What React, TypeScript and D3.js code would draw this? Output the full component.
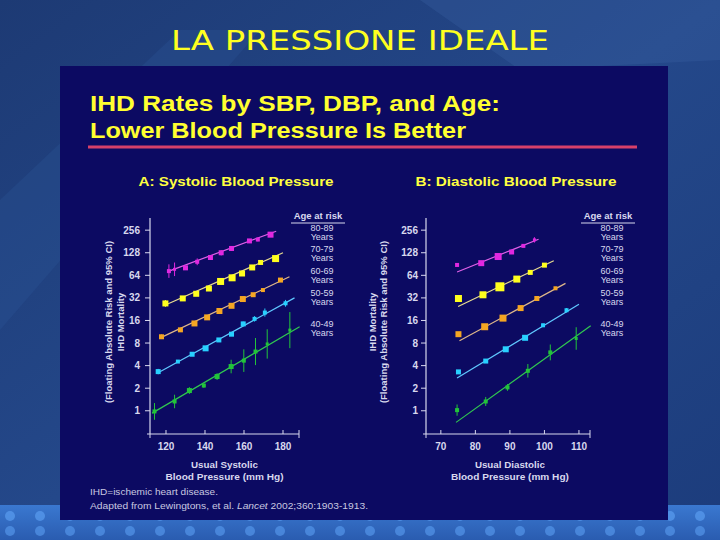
import React from "react";
import * as d3 from "d3";

const ageGroups = ["80-89", "70-79", "60-69", "50-59", "40-49"];
const seriesColors = ["#e028e0", "#ffff1e", "#f5a623", "#28d0ff", "#22c43a"];
const lineColors = ["#e060e8", "#e8dc90", "#e0b88a", "#60c8ff", "#30c850"];
const yTicks = [1, 2, 4, 8, 16, 32, 64, 128, 256];
const sbpTicks = [120, 140, 160, 180];
const dbpTicks = [70, 80, 90, 100, 110];

// Panel A: systolic
const sbpX = [
  [121.5, 124.4, 130, 136, 142.8, 148.3, 153.6, 162.8, 167.1, 173.6],
  [119.7, 128.6, 135.5, 142, 148, 153.9, 159, 164.2, 168.5, 176.2],
  [117.7, 127.4, 134.6, 141.1, 147.4, 153.6, 159.4, 164.7, 169.7, 178.7],
  [116, 126.1, 133.4, 140.3, 147.1, 153.6, 159.6, 165.4, 170.7, 181.3],
  [114.1, 124.4, 132, 139.4, 146.2, 153.4, 159.9, 165.9, 171.9, 183.5],
];
const sbpY = [
  [72.8, 77, 80.5, 97, 110.6, 128, 146, 184, 192, 223],
  [27, 31.5, 36.3, 42.7, 53, 59.3, 67.7, 81.5, 95, 107],
  [9.7, 12, 14.6, 17.6, 21.4, 25.1, 30.9, 35.3, 40.7, 55.3],
  [3.33, 4.53, 5.67, 6.8, 8.8, 10.5, 14.4, 16.8, 20.4, 27.1],
  [0.98, 1.33, 1.86, 2.17, 2.86, 3.89, 4.66, 6.16, 7.78, 11.9],
];
const sbpCI = [
  [0.3, 0.3, 0.08, 0.15, 0.1, 0.12, 0.1, 0.08, 0.08, 0.1],
  [0.15, 0.06, 0.05, 0.05, 0.05, 0.05, 0.05, 0.06, 0.08, 0.08],
  [0.1, 0.05, 0.05, 0.05, 0.05, 0.05, 0.05, 0.06, 0.06, 0.08],
  [0.12, 0.05, 0.05, 0.05, 0.05, 0.08, 0.1, 0.12, 0.18, 0.15],
  [0.37, 0.3, 0.15, 0.1, 0.15, 0.3, 0.5, 0.6, 0.65, 0.8],
];
const sbpSize = [
  [4, 3, 5, 4, 5, 5, 5, 5, 4, 6],
  [6, 6, 6, 6, 7, 7, 6, 6, 5, 7],
  [5, 5, 6, 6, 6, 6, 6, 5, 4, 5],
  [5, 4, 5, 6, 5, 5, 5, 4, 4, 4],
  [4, 4, 5, 4, 5, 5, 4, 4, 3, 3],
];
const sbpFitStart = [[121.5, 72.8], [119.7, 25.7], [116.8, 9.3], [115.5, 3.17], [112.9, 0.93]];
const sbpFitEnd = [[176.5, 248], [180, 128], [183.3, 61.2], [185.9, 32], [188.5, 13.2]];

// Panel B: diastolic
const dbpX = [
  [74.7, 81.7, 86.6, 90.5, 93.9, 97.1],
  [75.1, 82.2, 87.1, 92, 95.9, 100],
  [75.1, 82.7, 88, 93.1, 97.8, 103.2],
  [75.1, 83, 88.8, 94.4, 99.6, 106.4],
  [74.7, 83, 89.3, 95.2, 101.7, 109.2],
];
const dbpY = [
  [88, 93, 114, 131, 158, 190],
  [31.4, 35.2, 45, 57, 70, 87.5],
  [10.5, 13.2, 17.2, 23.4, 31.4, 43],
  [3.3, 4.6, 6.6, 9.4, 13.8, 21.9],
  [1.02, 1.33, 2.05, 3.41, 6, 9.2],
];
const dbpCI = [
  [0.06, 0.05, 0.05, 0.05, 0.06, 0.12],
  [0.05, 0.05, 0.05, 0.05, 0.06, 0.06],
  [0.05, 0.05, 0.05, 0.05, 0.06, 0.06],
  [0.06, 0.05, 0.05, 0.05, 0.08, 0.1],
  [0.25, 0.2, 0.15, 0.3, 0.35, 0.5],
];
const dbpSize = [
  [4, 6, 7, 5, 4, 3],
  [7, 7, 9, 7, 5, 5],
  [6, 7, 7, 6, 5, 4],
  [5, 5, 6, 6, 4, 4],
  [4, 4, 4, 4, 4, 3],
];
const dbpFitStart = [[74.7, 71], [75, 24.6], [75.4, 8.6], [74.7, 2.73], [74.4, 0.7]];
const dbpFitEnd = [[98.3, 194], [102.7, 100], [106.1, 50], [110, 26.4], [113.4, 13.6]];

const legendY = [228, 249, 271, 293, 324];

const axisCol = "#d8d8ee";
const font = "'Liberation Sans', Arial, sans-serif";

type PanelProps = {
  xDomain: [number, number];
  xRange: [number, number];
  ticks: number[];
  X: number[][];
  Y: number[][];
  CI: number[][];
  S: number[][];
  fitS: number[][];
  fitE: number[][];
  heading: string;
  headingX: number;
  headingW: number;
  xLabel1: string;
  xLabel2: string;
  xLabelW1: number;
  yLab1X: number;
  yLab2X: number;
  tickLabX: number;
  legendX: number;
};

function Panel(p: PanelProps) {
  const x = d3.scaleLinear().domain(p.xDomain).range(p.xRange);
  const y = d3.scaleLog().base(2).domain([0.49, 372]).range([434, 218]);
  const x0 = p.xRange[0];
  const x1 = p.xRange[1];
  const xc = (x(p.ticks[0]) + x(p.ticks[p.ticks.length - 1])) / 2;
  const yc = 322;
  return (
    <g>
      <text x={p.headingX} y={186} fill="#ffff40" fontFamily={font} fontWeight="bold" fontSize={13.5} textAnchor="middle" textLength={p.headingW} lengthAdjust="spacingAndGlyphs">
        {p.heading}
      </text>
      {/* axes */}
      <line x1={x0} x2={x0} y1={218} y2={434} stroke={axisCol} strokeWidth={1.2} />
      <line x1={x0 - 3} x2={x1} y1={434} y2={434} stroke={axisCol} strokeWidth={1.2} />
      <line x1={x1} x2={x1} y1={430} y2={438} stroke={axisCol} strokeWidth={1} />
      <line x1={x0} x2={x0} y1={434} y2={438} stroke={axisCol} strokeWidth={1} />
      {yTicks.map((t) => (
        <g key={t}>
          <line x1={x0 - 5} x2={x0} y1={y(t)} y2={y(t)} stroke={axisCol} />
          <text x={p.tickLabX} y={y(t) + 3.5} fill={axisCol} fontFamily={font} fontWeight="bold" fontSize={10} textAnchor="end">
            {t}
          </text>
        </g>
      ))}
      {p.ticks.map((t) => (
        <g key={t}>
          <line x1={x(t)} x2={x(t)} y1={430} y2={434} stroke={axisCol} />
          <text x={x(t)} y={450} fill={axisCol} fontFamily={font} fontWeight="bold" fontSize={10} textAnchor="middle">
            {t}
          </text>
        </g>
      ))}
      <text x={xc} y={468} fill={axisCol} fontFamily={font} fontWeight="bold" fontSize={9.5} textAnchor="middle" textLength={p.xLabelW1} lengthAdjust="spacingAndGlyphs">
        {p.xLabel1}
      </text>
      <text x={xc} y={480} fill={axisCol} fontFamily={font} fontWeight="bold" fontSize={9.5} textAnchor="middle" textLength={118} lengthAdjust="spacingAndGlyphs">
        {p.xLabel2}
      </text>
      <text transform={`translate(${p.yLab1X},${yc}) rotate(-90)`} fill={axisCol} fontFamily={font} fontWeight="bold" fontSize={9.5} textAnchor="middle">
        IHD Mortality
      </text>
      <text transform={`translate(${p.yLab2X},${yc}) rotate(-90)`} fill={axisCol} fontFamily={font} fontWeight="bold" fontSize={9.5} textAnchor="middle">
        (Floating Absolute Risk and 95% CI)
      </text>
      {/* series */}
      {ageGroups.map((a, i) => (
        <g key={a}>
          <line
            x1={x(p.fitS[i][0])}
            y1={y(p.fitS[i][1])}
            x2={x(p.fitE[i][0])}
            y2={y(p.fitE[i][1])}
            stroke={lineColors[i]}
            strokeWidth={1.2}
          />
          {p.X[i].map((xv, j) => {
            const yv = p.Y[i][j];
            const ci = p.CI[i][j];
            const s = p.S[i][j];
            return (
              <g key={j}>
                <line
                  x1={x(xv)}
                  x2={x(xv)}
                  y1={y(yv * Math.pow(2, ci))}
                  y2={y(yv / Math.pow(2, ci))}
                  stroke={seriesColors[i]}
                  strokeWidth={1}
                />
                <rect x={x(xv) - s / 2} y={y(yv) - s / 2} width={s} height={s} fill={seriesColors[i]} />
              </g>
            );
          })}
        </g>
      ))}
      {/* legend */}
      <text x={p.legendX} y={219} fill={axisCol} fontFamily={font} fontWeight="bold" fontSize={9.5} textAnchor="middle">
        Age at risk
      </text>
      <line x1={p.legendX - 27} x2={p.legendX + 27} y1={223} y2={223} stroke={axisCol} strokeWidth={1} />
      {ageGroups.map((a, i) => (
        <g key={a}>
          <text x={p.legendX + 4} y={legendY[i] + 3} fill={axisCol} fontFamily={font} fontSize={9} textAnchor="middle">
            {a}
          </text>
          <text x={p.legendX + 4} y={legendY[i] + 12} fill={axisCol} fontFamily={font} fontSize={9} textAnchor="middle">
            Years
          </text>
        </g>
      ))}
    </g>
  );
}

export default function App() {
  const dots = d3.range(0, 24);
  return (
    <svg width={720} height={540} style={{ position: "absolute", left: 0, top: 0 }}>
      <defs>
        <linearGradient id="bg" x1="0" y1="0" x2="1" y2="1">
          <stop offset="0" stopColor="#1d3a74" />
          <stop offset="0.5" stopColor="#24488a" />
          <stop offset="1" stopColor="#1c3c7c" />
        </linearGradient>
        <linearGradient id="strip" x1="0" y1="0" x2="0" y2="1">
          <stop offset="0" stopColor="#3a78d0" />
          <stop offset="1" stopColor="#2a5cb0" />
        </linearGradient>
      </defs>
      <rect x={0} y={0} width={720} height={540} fill="url(#bg)" />
      <path d="M0,200 L180,30 L260,30 L0,330 Z" fill="#2c5296" opacity={0.35} />
      <path d="M420,0 L720,0 L720,60 L520,70 Z" fill="#3a62a6" opacity={0.3} />
      <rect x={0} y={505} width={720} height={35} fill="url(#strip)" />
      {dots.map((k) => (
        <g key={k}>
          <circle cx={10 + k * 30} cy={516} r={5} fill="#5a9cf0" opacity={0.7} />
          <circle cx={10 + k * 30} cy={531} r={5} fill="#5a9cf0" opacity={0.6} />
        </g>
      ))}
      <text x={360} y={50} fill="#ffff20" fontFamily="'DejaVu Sans', sans-serif" fontSize={27} textAnchor="middle" textLength={378} lengthAdjust="spacingAndGlyphs">
        LA PRESSIONE IDEALE
      </text>
      <rect x={60} y={66} width={608} height={454} fill="#0c0a62" />
      <text x={90} y={111} fill="#ffff30" fontFamily={font} fontWeight="bold" fontSize={22} textLength={410} lengthAdjust="spacingAndGlyphs">
        IHD Rates by SBP, DBP, and Age:
      </text>
      <text x={90} y={138} fill="#ffff30" fontFamily={font} fontWeight="bold" fontSize={22} textLength={376} lengthAdjust="spacingAndGlyphs">
        Lower Blood Pressure Is Better
      </text>
      <line x1={88} x2={637} y1={147} y2={147} stroke="#d8406a" strokeWidth={3} />
      <Panel
        xDomain={[111.8, 188.2]}
        xRange={[150, 299]}
        ticks={sbpTicks}
        X={sbpX}
        Y={sbpY}
        CI={sbpCI}
        S={sbpSize}
        fitS={sbpFitStart}
        fitE={sbpFitEnd}
        heading="A: Systolic Blood Pressure"
        headingX={236}
        headingW={195}
        xLabel1="Usual Systolic"
        xLabel2="Blood Pressure (mm Hg)"
        xLabelW1={67}
        yLab1X={124}
        yLab2X={112}
        tickLabX={140}
        legendX={318}
      />
      <Panel
        xDomain={[65.7, 113.2]}
        xRange={[426, 590]}
        ticks={dbpTicks}
        X={dbpX}
        Y={dbpY}
        CI={dbpCI}
        S={dbpSize}
        fitS={dbpFitStart}
        fitE={dbpFitEnd}
        heading="B: Diastolic Blood Pressure"
        headingX={516}
        headingW={201}
        xLabel1="Usual Diastolic"
        xLabel2="Blood Pressure (mm Hg)"
        xLabelW1={70}
        yLab1X={376}
        yLab2X={387}
        tickLabX={418}
        legendX={608}
      />
      <text x={90} y={495} fill="#c8c8e0" fontFamily={font} fontSize={9.5} textLength={128} lengthAdjust="spacingAndGlyphs">
        IHD=ischemic heart disease.
      </text>
      <text x={90} y={509} fill="#c8c8e0" fontFamily={font} fontSize={9.5} textLength={278} lengthAdjust="spacingAndGlyphs">
        Adapted from Lewingtons, et al. <tspan fontStyle="italic">Lancet</tspan> 2002;360:1903-1913.
      </text>
    </svg>
  );
}
